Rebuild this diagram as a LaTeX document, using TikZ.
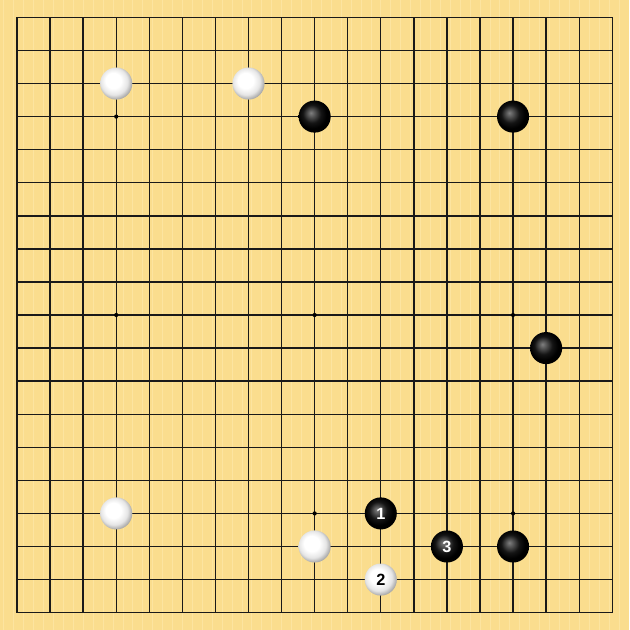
\documentclass[tikz,border=0pt]{standalone}
\usepackage{fontspec}
\setsansfont{Liberation Sans}
\definecolor{board}{RGB}{250,221,142}
\definecolor{boardlight}{RGB}{252,228,160}
\pgfdeclareradialshading{whiteball}{\pgfpoint{-6bp}{6bp}}{%
  color(0bp)=(white); color(12bp)=(white); color(21bp)=(black!10);
  color(28bp)=(black!36); color(50bp)=(black!36)}
\pgfdeclareradialshading{blackball}{\pgfpoint{-6bp}{6bp}}{%
  color(0bp)=(black!50); color(6bp)=(black!68); color(14bp)=(black!92);
  color(22bp)=(black); color(50bp)=(black)}
\tikzstyle{grid} = [line width=0.6pt, black!90]
\tikzstyle{stone} = [circle, inner sep=0pt, minimum size=0.485cm,
    font=\sffamily\bfseries\scriptsize]
\tikzstyle{black stone} = [stone, shading=blackball, text=white]
\tikzstyle{white stone} = [stone, shading=whiteball, text=black]

\begin{document}
\begin{tikzpicture}[x=0.5cm,y=-0.5cm]

  \fill[board] (-0.515,-0.515) rectangle (18.515,18.515);
  \foreach \k in {0,...,62}
    \draw[boardlight, line width=0.3pt] (-0.4+\k*0.3,-0.515) -- (-0.4+\k*0.3,18.515);

  \foreach \i in {0,...,18} {
    \draw[grid] (\i,0) -- (\i,18);
    \draw[grid] (0,\i) -- (18,\i);
  }
  \foreach \x in {3,9,15}
    \foreach \y in {3,9,15}
      \fill (\x,\y) circle (0.9pt);

  \node[white stone] (w1) at (3,2)   {};
  \node[white stone] (w2) at (7,2)   {};
  \node[black stone] (b1) at (9,3)   {};
  \node[black stone] (b2) at (15,3)  {};
  \node[black stone] (b3) at (16,10) {};
  \node[white stone] (w3) at (3,15)  {};
  \node[white stone] (w4) at (9,16)  {};
  \node[black stone] (b4) at (15,16) {};

  \node[black stone] (m1) at (11,15) {1};
  \node[white stone] (m2) at (11,17) {2};
  \node[black stone] (m3) at (13,16) {3};
\end{tikzpicture}
\end{document}
